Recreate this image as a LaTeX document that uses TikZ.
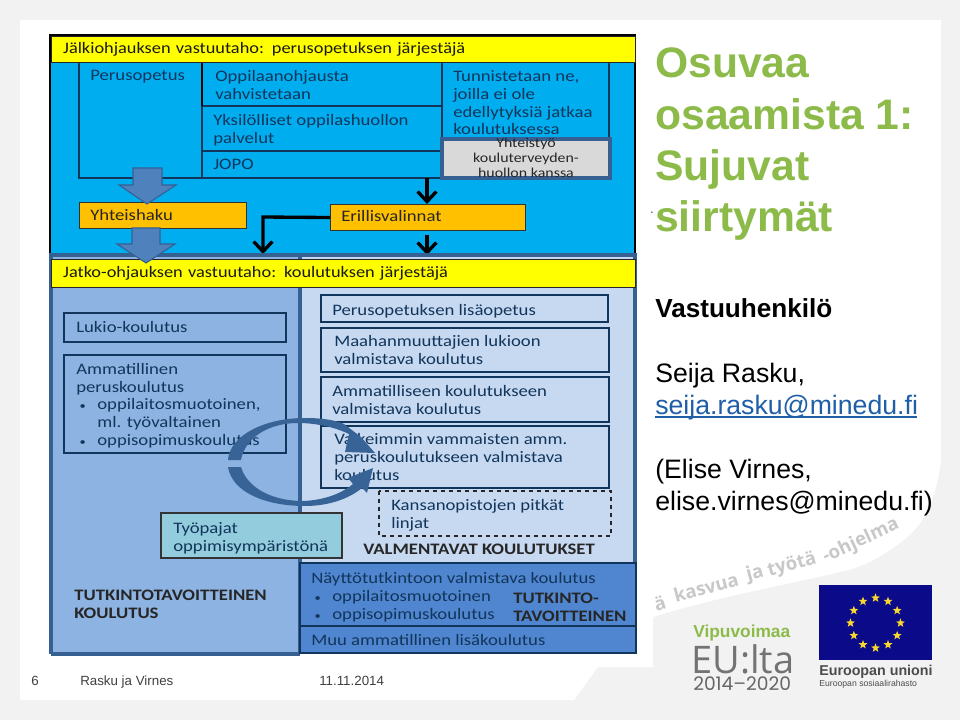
\documentclass[tikz,border=0pt]{standalone}
\usepackage{fontspec}
\setmainfont{Liberation Sans}
\newfontfamily\boxfont[FakeStretch=1.17]{Carlito}
\newfontfamily\hdrfont[FakeStretch=1.145]{Carlito}
\newfontfamily\wmfont{Open Sans}
\newfontfamily\popfont{Poppins}
\usetikzlibrary{arrows.meta,shapes.geometric}
\definecolor{frameg}{HTML}{F2F2F2}
\definecolor{topblue}{HTML}{00AEEF}
\definecolor{edgeb}{HTML}{366092}
\definecolor{leftb}{HTML}{8DB3E2}
\definecolor{rightb}{HTML}{C6D9F1}
\definecolor{lowb}{HTML}{4F86CF}
\definecolor{yell}{HTML}{FFFF00}
\definecolor{orng}{HTML}{FFC000}
\definecolor{arrb}{HTML}{4F81BD}
\definecolor{titleg}{HTML}{8CBB4A}
\definecolor{linkb}{HTML}{1F5FA8}
\definecolor{navyt}{HTML}{12355B}
\definecolor{wm}{HTML}{C8C8C8}
\definecolor{workc}{HTML}{93CDDD}
\definecolor{flagb}{HTML}{0B0B8A}
\definecolor{stargold}{HTML}{F7D730}
\newcommand\bul{\makebox[15.8pt][l]{\hspace{2.5pt}{\fontsize{8}{8}\selectfont •}}}
\tikzset{
 txt/.style={font=\boxfont\fontsize{12}{13.3}\selectfont,text=navyt,anchor=north west,inner sep=0pt,align=left},
 darktxt/.style={txt,text=black!85},
 boldtxt/.style={txt,font=\boxfont\bfseries\fontsize{12}{13.5}\selectfont,text=black!85},
 cell/.style={draw=navyt,line width=0.9pt},
 hdr/.style={draw=black!85,line width=1pt,fill=yell,anchor=north west,inner sep=0pt,text width=438pt,font=\hdrfont\fontsize{12}{13}\selectfont,text=black!90},
 orangebox/.style={draw=black!80,line width=0.8pt,fill=orng,anchor=north west,inner sep=0pt},
 barb/.style={line width=2.5pt,black,-{Straight Barb[length=7.5pt,width=14pt,line width=2.5pt]}},
 blockarr/.style={fill=arrb,draw=edgeb,line width=0.8pt},
 slide/.style={font=\fontsize{20}{24}\selectfont,anchor=base west,inner sep=0pt},
 titlet/.style={font=\bfseries\fontsize{32}{38}\selectfont,text=titleg,anchor=base west,inner sep=0pt},
 foot/.style={font=\fontsize{10}{12}\selectfont,text=black!75,anchor=base west,inner sep=0pt},
 wmt/.style={font=\wmfont\bfseries\fontsize{14}{14}\selectfont,text=wm,inner sep=0pt},
 swirl/.style={fill=edgeb!90!arrb,draw=none},
 flagstar/.style={star,star points=5,star point ratio=2.4,fill=stargold,minimum size=7pt,inner sep=0pt,draw=none},
}
\begin{document}
\begin{tikzpicture}[x=0.75pt,y=-0.75pt]
\useasboundingbox (0,0) rectangle (960,720);
\fill[frameg] (0,0) rectangle (960,720);
\fill[white] (20,20) -- (941,20) -- (941,460)
  .. controls (936,500) and (925,525) .. (900,543)
  .. controls (875,561) and (860,568) .. (840,572)
  .. controls (800,582) and (720,596) .. (653,617)
  -- (653,667) -- (598,667) -- (574,700) -- (20,700) -- cycle;
% top section
\fill[topblue] (50,36) rectangle (635,255);
\draw[black,line width=2.2pt] (50,255) -- (50,35) -- (635,35) -- (635,255);
\draw[cell] (79,62) rectangle (202,178);
\draw[cell] (202,62) rectangle (442,106);
\draw[cell] (202,106) rectangle (442,151);
\draw[cell] (202,151) rectangle (442,178);
\draw[cell] (442,62) rectangle (609,138);
\draw[black,line width=1.2pt] (202,62) -- (202,106);
\node[hdr,minimum height=19.5pt] (h1) at (50.5,36) {\hspace{9pt}Jälkiohjauksen vastuutaho: perusopetuksen järjestäjä};
\node[txt] (t1) at (90,70) {Perusopetus};
\node[txt] (t2) at (215,70) {Oppilaanohjausta\\vahvistetaan};
\node[txt] (t3) at (213,114.5) {Yksilölliset oppilashuollon\\palvelut};
\node[txt] (t4) at (213,159) {JOPO};
\node[txt] (t5) at (453,70.5) {Tunnistetaan ne,\\joilla ei ole\\edellytyksiä jatkaa\\koulutuksessa};
\draw[edgeb,line width=2.4pt,fill=black!15] (442,139) rectangle (610,178);
\node[font=\boxfont\fontsize{10.2}{11.2}\selectfont,align=center,inner sep=0pt,text=black!85] (t6) at (526,158) {Yhteistyö\\kouluterveyden-\\huollon kanssa};
\node[orangebox,minimum width=125pt,minimum height=19.5pt] (yh) at (79,202) {};
\node[darktxt] at (90,209.5) {Yhteishaku};
\node[orangebox,minimum width=146pt,minimum height=19.5pt] (er) at (330,204) {};
\node[darktxt] at (341,210.5) {Erillisvalinnat};
\coordinate (jopoout) at (427,178);
\coordinate (lowin1) at (427,255);
\coordinate (lowin2) at (263,254);
\draw[barb] (jopoout) -- (er.north -| jopoout);
\draw[barb] ([yshift=-3pt]er.south -| jopoout) -- (lowin1);
\draw[barb] (er.west) -- (263,217) -- (lowin2);
% lower section
\fill[leftb] (50,255) rectangle (300,654);
\fill[rightb] (300,255) rectangle (636,563);
\draw[edgeb,line width=2.4pt] (51,654) -- (51,255) -- (635,255) -- (635,563);
\draw[edgeb,line width=2.4pt] (51,654) -- (300,654);
\draw[edgeb,line width=2.4pt] (300,255) -- (300,654);
\node[hdr,minimum height=21pt] (h2) at (50.5,259) {\hspace{9pt}Jatko-ohjauksen vastuutaho: koulutuksen järjestäjä};
% left cells
\draw[cell] (64,313) rectangle (286,342);
\node[txt] at (76,321.5) {Lukio-koulutus};
\draw[cell] (64,355) rectangle (286,453);
\node[txt] at (76,363) {Ammatillinen\\peruskoulutus\\\bul oppilaitosmuotoinen,\\\hspace*{15.8pt}ml. työvaltainen\\\bul oppisopimuskoulutus};
\draw[draw=black!80,line width=0.9pt,fill=workc] (161,513) rectangle (342,558);
\node[txt] at (173,522.5) {Työpajat\\oppimisympäristönä};
\node[boldtxt] at (74,589.5) {TUTKINTOTAVOITTEINEN\\KOULUTUS};
% right cells
\draw[cell] (321,295) rectangle (608,322);
\node[txt] at (332,304.5) {Perusopetuksen lisäopetus};
\draw[cell] (321,328) rectangle (609,372);
\node[txt] at (334,335.5) {Maahanmuuttajien lukioon\\valmistava koulutus};
\draw[cell] (321,377) rectangle (609,422);
\node[txt] at (332,385) {Ammatilliseen koulutukseen\\valmistava koulutus};
\draw[cell] (321,426) rectangle (609,488);
\node[txt] at (334,433.5) {Vaikeimmin vammaisten amm.\\peruskoulutukseen valmistava\\koulutus};
\draw[black!85,line width=0.9pt,dashed] (379,491) rectangle (611,536);
\node[txt] at (391,499.5) {Kansanopistojen pitkät\\linjat};
\node[boldtxt] at (363,543.5) {VALMENTAVAT KOULUTUKSET};
% bottom right
\fill[lowb] (300,563) rectangle (636,653);
\draw[navyt,line width=1pt] (300,563) rectangle (636,653);
\draw[navyt,line width=1pt] (300,626) -- (636,626);
\node[txt,font=\boxfont\fontsize{12}{13.4}\selectfont] at (311,572.5) {Näyttötutkintoon valmistava koulutus\\\bul oppilaitosmuotoinen\\\bul oppisopimuskoulutus};
\node[boldtxt] at (513,592.5) {TUTKINTO-\\TAVOITTEINEN};
\node[txt] at (311,634.5) {Muu ammatillinen lisäkoulutus};
% block arrows
\draw[blockarr] (133,168) -- (162,168) -- (162,185) -- (176,185) -- (147,204) -- (119,185) -- (133,185) -- cycle;
\draw[blockarr] (132,228) -- (160,228) -- (160,244) -- (175,244) -- (146,263) -- (117,244) -- (132,244) -- cycle;
% swirl
\fill[swirl] (228,460) .. controls (230,435) and (265,418) .. (305,418)
  .. controls (322,418) and (335,420) .. (344,424) -- (361,437) -- (375,453) -- (345,452) -- (349,434)
  .. controls (330,425) and (310,423) .. (298,423) .. controls (268,423) and (245,438) .. (241,460) -- cycle;
\fill[swirl] (228,467) .. controls (232,492) and (265,506) .. (305,506)
  .. controls (330,506) and (350,498) .. (362,488) -- (367,493) -- (373,468) -- (348,478) -- (353,484)
  .. controls (340,495) and (320,501) .. (300,501)
  .. controls (270,500) and (247,487) .. (241,467) -- cycle;
% right panel
\node[titlet] at (655,78) {Osuvaa};
\node[titlet] at (655,130) {osaamista 1:};
\node[titlet] at (655,181) {Sujuvat};
\node[titlet] at (655,232) {siirtymät};
\node[slide,font=\bfseries\fontsize{19.6}{24}\selectfont] at (655,317) {Vastuuhenkilö};
\node[slide] at (655,382) {Seija Rasku,};
\node[slide,text=linkb] (mail) at (655,414) {seija.rasku@minedu.fi};
\draw[linkb,line width=0.8pt] (mail.base west) ++(0,3) -- ++(262,0);
\node[slide] at (655,478) {(Elise Virnes,};
\node[slide] at (655,510) {elise.virnes@minedu.fi)};
\node[font=\fontsize{10}{10}\selectfont,inner sep=0pt,anchor=base,text=edgeb] at (652,214) {.};
% watermark
\node[wmt,rotate=16] at (660,603) {ä};
\node[wmt,rotate=15] at (706,587) {kasvua};
\node[wmt,rotate=15] at (755,574) {ja};
\node[wmt,rotate=15] at (792,565) {työtä};
\node[wmt,rotate=25] at (861,541) {-ohjelma};
% logos
\node[anchor=base west,inner sep=0pt,font=\bfseries\fontsize{13}{13}\selectfont,text=titleg] at (693,637) {Vipuvoimaa};
\node[anchor=base west,inner sep=0pt,font=\wmfont\fontsize{28.5}{29}\selectfont,text=black!55] at (691,673) {EU:lta};
\node[anchor=base west,inner sep=0pt,font=\popfont\fontsize{14}{14}\selectfont,text=black!60] at (693,690) {2014–2020};
\fill[flagb] (819,585) rectangle (932,660);
\foreach \i in {0,...,11}{\node[flagstar] (s\i) at ({875.5+25*cos(30*\i)},{623+25*sin(30*\i)}) {};}
\node[anchor=base west,inner sep=0pt,font=\bfseries\fontsize{10.7}{11}\selectfont,text=black!70] at (819,675) {Euroopan unioni};
\node[anchor=base west,inner sep=0pt,font=\fontsize{6.5}{7}\selectfont,text=black!70] at (819,686) {Euroopan sosiaalirahasto};
% footer
\node[foot] at (31,685) {6};
\node[foot] at (80,685) {Rasku ja Virnes};
\node[foot] at (319,685) {11.11.2014};
\end{tikzpicture}
\end{document}
